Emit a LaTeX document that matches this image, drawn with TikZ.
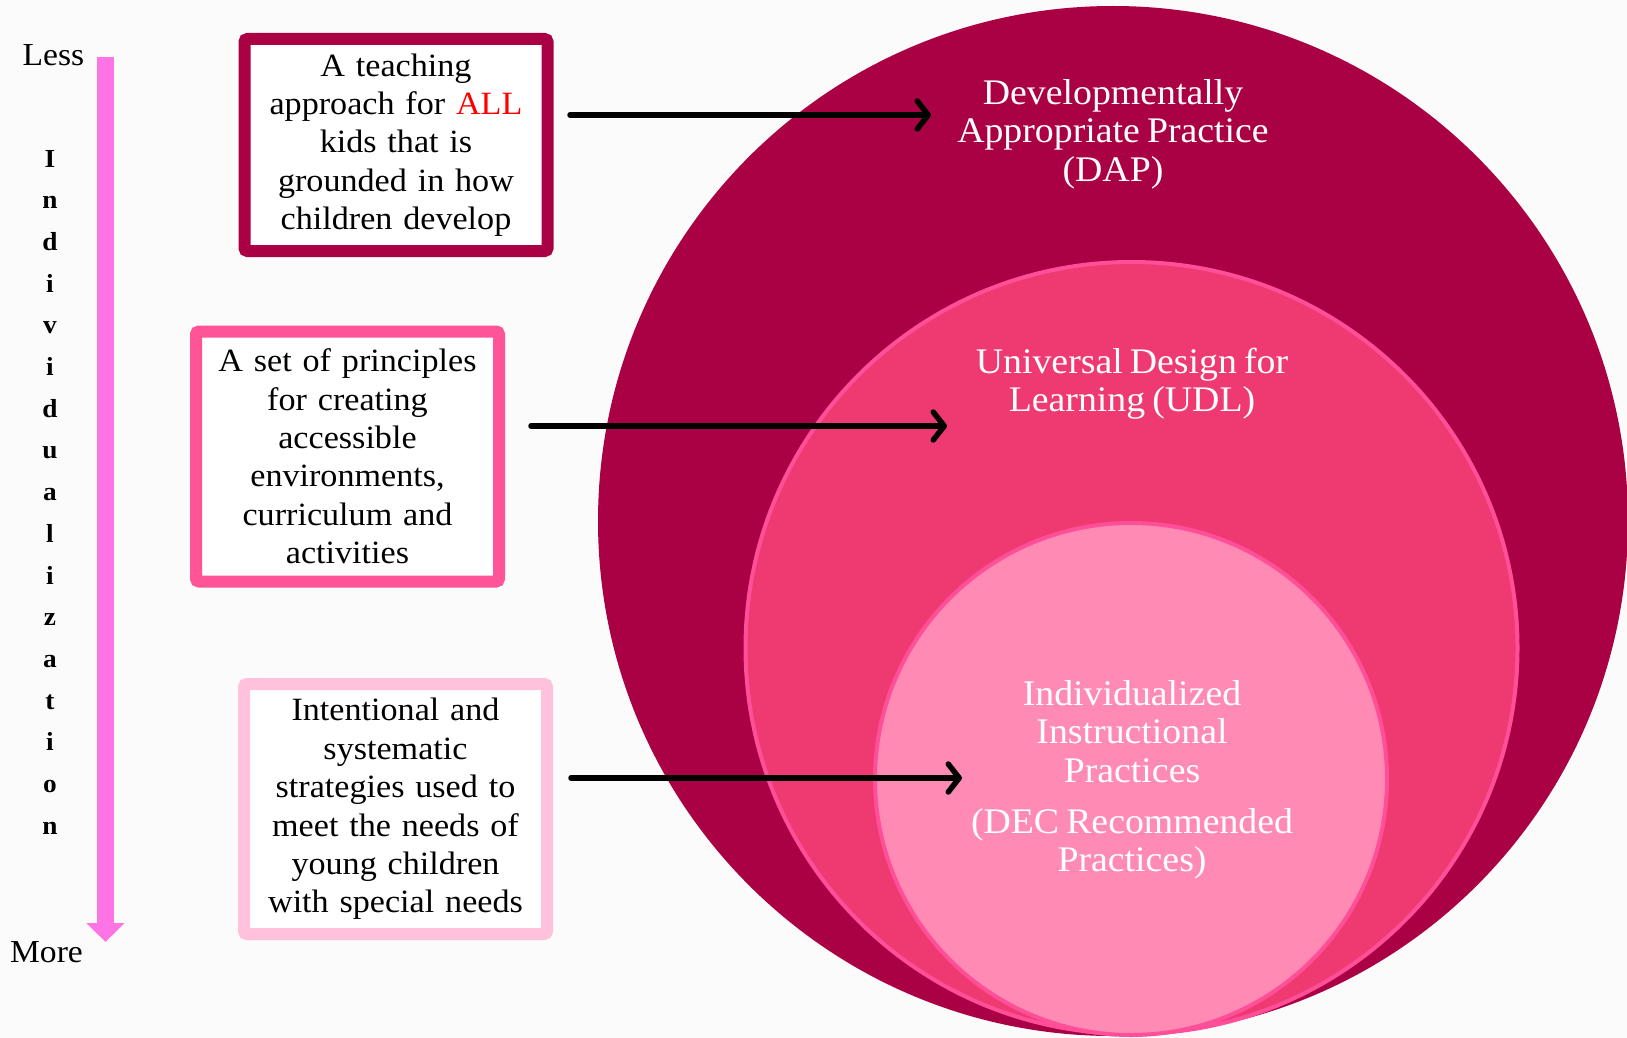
\documentclass[tikz,border=0pt]{standalone}
\usepackage{fontspec}
\setmainfont{Liberation Serif}[FakeStretch=1.05,WordSpace=0.75]
\usetikzlibrary{arrows.meta}
\definecolor{dap}{HTML}{AA0044}
\definecolor{udl}{HTML}{EE3A70}
\definecolor{ringline}{HTML}{FF4F98}
\definecolor{iip}{HTML}{FF8BB5}
\definecolor{boxtwo}{HTML}{FF5596}
\definecolor{boxthree}{HTML}{FFC1DC}
\definecolor{scalecol}{HTML}{FF74E4}
\definecolor{bg}{HTML}{FBFBFB}
\definecolor{allred}{HTML}{FF0000}
\begin{document}
\begin{tikzpicture}[x=1pt,y=-1pt,
  txt/.style={font=\fontsize{32.5}{38.4}\selectfont, align=center, inner sep=0pt},
  ctxt/.style={font=\fontsize{36}{38.4}\selectfont, align=center, inner sep=0pt, text=white},
  descbox/.style={txt, line width=12pt, fill=white, rounded corners=3pt,
    minimum width=303pt, text width=290pt},
  conn/.style={line width=5.5pt, line cap=round, line join=round,
    -{Straight Barb[length=11pt,width=28pt,line join=round,line cap=round]}},
  vl/.style={font=\fontsize{26}{30}\selectfont\bfseries, anchor=base, inner sep=0pt},
  endlbl/.style={font=\fontsize{32}{38}\selectfont, anchor=base, inner sep=0pt}]
% canvas
\fill[bg] (0,0) rectangle (1627,1038);
\useasboundingbox (0,0) rectangle (1627,1038);
% nested circles
\fill[dap] (1113,521) circle[radius=515pt];
\filldraw[fill=udl, draw=ringline, line width=4pt] (1131.5,648) circle[radius=386pt];
\filldraw[fill=iip, draw=ringline, line width=4pt] (1131,779) circle[radius=256pt];
% circle labels
\node[ctxt] (dap) at (1113,134) {Developmentally\\Appropriate Practice\\(DAP)};
\node[ctxt] (udl) at (1132,384) {Universal Design for\\Learning (UDL)};
\node[ctxt] (iip) at (1132,780) {Individualized\\Instructional\\Practices\\[13pt](DEC Recommended\\Practices)};
% description boxes
\node[descbox, draw=dap, minimum height=212pt] (b1) at (396,145)
  {A teaching\\approach for \textcolor{allred}{ALL}\\kids that is\\grounded in how\\children develop};
\node[descbox, draw=boxtwo, minimum height=250pt] (b2) at (347.5,456.5)
  {A set of principles\\for creating\\accessible\\environments,\\curriculum and\\activities};
\node[descbox, draw=boxthree, minimum height=250pt] (b3) at (395.5,809)
  {Intentional and\\systematic\\strategies used to\\meet the needs of\\young children\\with special needs};
% connectors
\coordinate (s1) at (570,115);
\coordinate (t1) at (931,115);
\coordinate (s2) at (531,426);
\coordinate (t2) at (947,426);
\coordinate (s3) at (571,778);
\coordinate (t3) at (962,778);
\draw[conn] (s1) -- (t1);
\draw[conn] (s2) -- (t2);
\draw[conn] (s3) -- (t3);
% individualization scale
\node[endlbl] (less) at (53.5,66) {Less};
\node[endlbl] (more) at (46.5,962) {More};
\coordinate (scaletop) at (105.5,57);
\coordinate (scalebot) at (105.5,942);
\draw[scalecol, line width=17pt, -{Triangle[length=19pt,width=37pt]}] (scaletop) -- (scalebot);
\foreach \l [count=\i from 0] in {I,n,d,i,v,i,d,u,a,l,i,z,a,t,i,o,n}
  \node[vl] (v\i) at (50,167+\i*41.7) {\l};
\end{tikzpicture}
\end{document}
